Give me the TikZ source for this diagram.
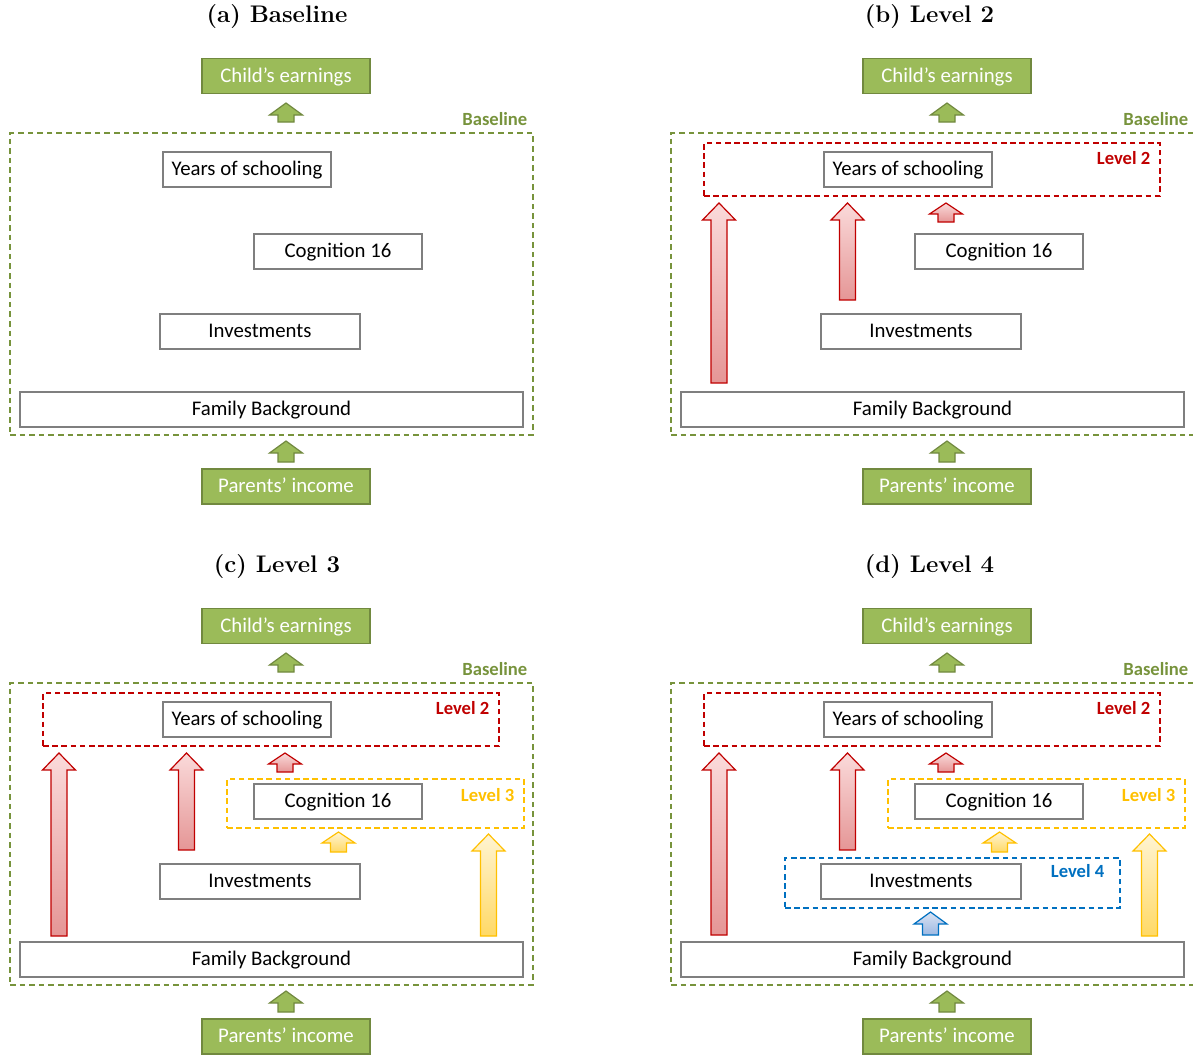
\documentclass[tikz,border=0pt]{standalone}
\usepackage{fontspec}
\newfontfamily\cfont{Carlito}
\usetikzlibrary{calc}

\definecolor{grn}{HTML}{9BBB59}
\definecolor{grnedge}{HTML}{71893F}
\definecolor{grnlbl}{HTML}{77933C}
\definecolor{boxedge}{HTML}{7F7F7F}
\definecolor{lvlred}{HTML}{C00000}
\definecolor{redlt}{HTML}{FADADA}
\definecolor{redmd}{HTML}{E59696}
\definecolor{lvlyel}{HTML}{FFC000}
\definecolor{yellt}{HTML}{FFF4D2}
\definecolor{yelmd}{HTML}{FFD966}
\definecolor{lvlblue}{HTML}{0070C0}
\definecolor{bluelt}{HTML}{DAE3F3}
\definecolor{bluemd}{HTML}{9DB8E2}

\tikzset{
  paneltitle/.style={font=\large\bfseries, inner sep=0pt},
  grnbox/.style={draw=grnedge, fill=grn, text=white, line width=0.75pt,
    minimum width=84pt, minimum height=17.5pt, inner sep=0pt,
    text height=8pt, text depth=2pt,
    font=\cfont\fontsize{10.4}{12}\selectfont},
  greybox/.style={draw=boxedge, fill=white, line width=0.75pt,
    minimum height=17.5pt, inner sep=0pt, text height=8pt, text depth=2pt,
    font=\cfont\fontsize{10.4}{12}\selectfont},
  basefr/.style={draw=grnlbl, line width=0.7pt, dash pattern=on 2.8pt off 2pt, inner sep=0pt},
  lvlbox/.style={line width=0.7pt, dash pattern=on 2.8pt off 1.8pt, inner sep=0pt},
  lvllbl/.style={anchor=east, inner sep=0pt, font=\cfont\bfseries\fontsize{9.3}{11}\selectfont},
  grnarr/.style={draw=grnedge, fill=grn, line width=0.6pt},
  redarr/.style={draw=lvlred, top color=redlt, bottom color=redmd, line width=0.6pt},
  yelarr/.style={draw=lvlyel, top color=yellt, bottom color=yelmd, line width=0.6pt},
  bluearr/.style={draw=lvlblue, top color=bluelt, bottom color=bluemd, line width=0.6pt}
}

% block arrow pointing up: style, bottom point, top point, head length
\newcommand{\blkarrow}[4][]{%
  \path[#1] let \p1=#2, \p2=#3 in
    (\x1-4pt,\y1) -- (\x1-4pt,\y2-#4) -- (\x1-8.25pt,\y2-#4) -- (\x1,\y2)
    -- (\x1+8.25pt,\y2-#4) -- (\x1+4pt,\y2-#4) -- (\x1+4pt,\y1) -- cycle;}

% the part every panel has
\newcommand{\basepanel}[1]{%
  \node[grnbox] (#1-earn) at (286,76) {Child’s earnings};
  \node[grnbox] (#1-inc) at (286,486.5) {Parents’ income};
  \node[basefr, minimum width=261.5pt, minimum height=151pt] (#1-base) at (271.5,284) {};
  \node[lvllbl, text=grnlbl] (#1-baselbl) at ([xshift=-3pt,yshift=6.5pt]#1-base.north east) {Baseline};
  \node[greybox, minimum width=84pt] (#1-school) at (247,169.5) {Years of schooling};
  \node[greybox, minimum width=84pt] (#1-cog) at (338,251.5) {Cognition 16};
  \node[greybox, minimum width=100pt] (#1-inv) at (260,331.5) {Investments};
  \node[greybox, minimum width=251.5pt] (#1-fam) at (271.5,409.5) {Family Background};
  \blkarrow[grnarr]{(286,122)}{(286,103)}{6pt}
  \blkarrow[grnarr]{(286,462)}{(286,441)}{6pt}}

\newcommand{\levelii}[1]{%
  \node[lvlbox, draw=lvlred, minimum width=228pt, minimum height=26.5pt] (#1-l2) at (271,169.5) {};
  \node[lvllbl, text=lvlred] (#1-l2lbl) at ([xshift=-5pt,yshift=-8pt]#1-l2.north east) {Level 2};
  \blkarrow[redarr]{(186.5,300)}{(186.5,203)}{8.5pt}
  \blkarrow[redarr]{(285,222)}{(285,203)}{5.5pt}}

\newcommand{\leveliii}[1]{%
  \node[lvlbox, draw=lvlyel, minimum width=148.5pt, minimum height=24.5pt] (#1-l3) at (375.5,253.5) {};
  \node[lvllbl, text=lvlyel] (#1-l3lbl) at ([xshift=-5pt,yshift=-8.5pt]#1-l3.north east) {Level 3};
  \blkarrow[yelarr]{(338.5,302)}{(338.5,282)}{5.5pt}
  \blkarrow[yelarr]{(488.5,386)}{(488.5,284)}{8.5pt}}

\begin{document}
\begin{tikzpicture}[x=0.5pt, y=-0.5pt]
\useasboundingbox (0,0) rectangle (1193,1057);

% (a)
\node[paneltitle] (a-title) at (277,16.5) {(a) Baseline};
\basepanel{a}

% (b)
\begin{scope}[shift={(661,0)}]
\node[paneltitle] (b-title) at (268.5,16.5) {(b) Level 2};
\basepanel{b}
\levelii{b}
\blkarrow[redarr]{(58,383)}{(58,203)}{8.5pt}
\end{scope}

% (c)
\begin{scope}[shift={(0,550)}]
\node[paneltitle] (c-title) at (277,16.5) {(c) Level 3};
\basepanel{c}
\levelii{c}
\leveliii{c}
\blkarrow[redarr]{(59,386)}{(59,203)}{8.5pt}
\end{scope}

% (d)
\begin{scope}[shift={(661,550)}]
\node[paneltitle] (d-title) at (268.5,16.5) {(d) Level 4};
\basepanel{d}
\levelii{d}
\leveliii{d}
\node[lvlbox, draw=lvlblue, minimum width=167.5pt, minimum height=25pt] (d-l4) at (291.5,333) {};
\node[lvllbl, text=lvlblue] (d-l4lbl) at ([xshift=-8pt,yshift=-7pt]d-l4.north east) {Level 4};
\blkarrow[redarr]{(58,385)}{(58,203)}{8.5pt}
\blkarrow[bluearr]{(269.5,385)}{(269.5,362)}{6pt}
\end{scope}
\end{tikzpicture}
\end{document}
